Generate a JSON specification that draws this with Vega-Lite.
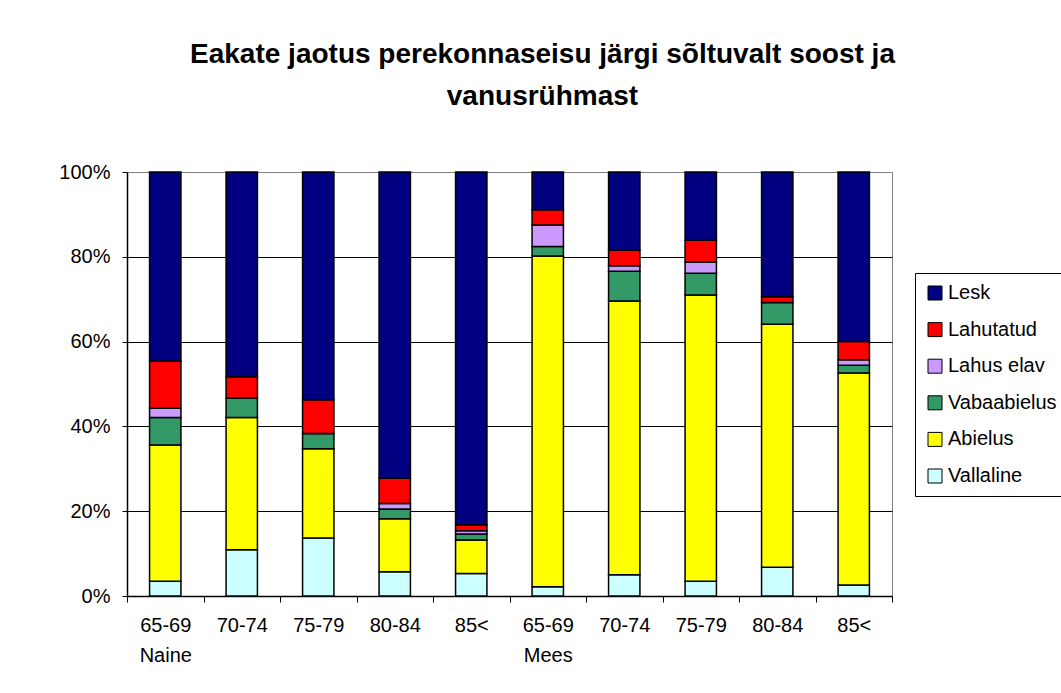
{
  "$schema": "https://vega.github.io/schema/vega-lite/v6.json",
  "width": 765,
  "height": 424,
  "autosize": "none",
  "padding": {"left": 127, "top": 172, "right": 169, "bottom": 97},
  "background": "white",
  "title": {
    "text": ["Eakate jaotus perekonnaseisu järgi sõltuvalt soost ja", "vanusrühmast"],
    "font": "Liberation Sans",
    "fontSize": 28,
    "fontWeight": "bold",
    "color": "black",
    "lineHeight": 42,
    "anchor": "middle",
    "frame": "group",
    "dx": 33,
    "offset": 51
  },
  "config": {
    "view": {"stroke": "#808080", "strokeWidth": 1},
    "font": "Liberation Sans"
  },
  "data": {
    "values": [
      {"grupp": "Naine 65-69", "staatus": "Vallaline", "osakaal": 3.5},
      {"grupp": "Naine 65-69", "staatus": "Abielus", "osakaal": 32.1},
      {"grupp": "Naine 65-69", "staatus": "Vabaabielus", "osakaal": 6.5},
      {"grupp": "Naine 65-69", "staatus": "Lahus elav", "osakaal": 2.2},
      {"grupp": "Naine 65-69", "staatus": "Lahutatud", "osakaal": 11.1},
      {"grupp": "Naine 65-69", "staatus": "Lesk", "osakaal": 44.6},
      {"grupp": "Naine 70-74", "staatus": "Vallaline", "osakaal": 10.9},
      {"grupp": "Naine 70-74", "staatus": "Abielus", "osakaal": 31.2},
      {"grupp": "Naine 70-74", "staatus": "Vabaabielus", "osakaal": 4.6},
      {"grupp": "Naine 70-74", "staatus": "Lahus elav", "osakaal": 0},
      {"grupp": "Naine 70-74", "staatus": "Lahutatud", "osakaal": 5.0},
      {"grupp": "Naine 70-74", "staatus": "Lesk", "osakaal": 48.3},
      {"grupp": "Naine 75-79", "staatus": "Vallaline", "osakaal": 13.7},
      {"grupp": "Naine 75-79", "staatus": "Abielus", "osakaal": 21.0},
      {"grupp": "Naine 75-79", "staatus": "Vabaabielus", "osakaal": 3.6},
      {"grupp": "Naine 75-79", "staatus": "Lahus elav", "osakaal": 0},
      {"grupp": "Naine 75-79", "staatus": "Lahutatud", "osakaal": 8.0},
      {"grupp": "Naine 75-79", "staatus": "Lesk", "osakaal": 53.7},
      {"grupp": "Naine 80-84", "staatus": "Vallaline", "osakaal": 5.7},
      {"grupp": "Naine 80-84", "staatus": "Abielus", "osakaal": 12.5},
      {"grupp": "Naine 80-84", "staatus": "Vabaabielus", "osakaal": 2.3},
      {"grupp": "Naine 80-84", "staatus": "Lahus elav", "osakaal": 1.3},
      {"grupp": "Naine 80-84", "staatus": "Lahutatud", "osakaal": 6.0},
      {"grupp": "Naine 80-84", "staatus": "Lesk", "osakaal": 72.2},
      {"grupp": "Naine 85<", "staatus": "Vallaline", "osakaal": 5.3},
      {"grupp": "Naine 85<", "staatus": "Abielus", "osakaal": 7.9},
      {"grupp": "Naine 85<", "staatus": "Vabaabielus", "osakaal": 1.4},
      {"grupp": "Naine 85<", "staatus": "Lahus elav", "osakaal": 0.8},
      {"grupp": "Naine 85<", "staatus": "Lahutatud", "osakaal": 1.4},
      {"grupp": "Naine 85<", "staatus": "Lesk", "osakaal": 83.2},
      {"grupp": "Mees 65-69", "staatus": "Vallaline", "osakaal": 2.2},
      {"grupp": "Mees 65-69", "staatus": "Abielus", "osakaal": 78.0},
      {"grupp": "Mees 65-69", "staatus": "Vabaabielus", "osakaal": 2.2},
      {"grupp": "Mees 65-69", "staatus": "Lahus elav", "osakaal": 5.1},
      {"grupp": "Mees 65-69", "staatus": "Lahutatud", "osakaal": 3.6},
      {"grupp": "Mees 65-69", "staatus": "Lesk", "osakaal": 8.9},
      {"grupp": "Mees 70-74", "staatus": "Vallaline", "osakaal": 5.0},
      {"grupp": "Mees 70-74", "staatus": "Abielus", "osakaal": 64.6},
      {"grupp": "Mees 70-74", "staatus": "Vabaabielus", "osakaal": 7.0},
      {"grupp": "Mees 70-74", "staatus": "Lahus elav", "osakaal": 1.3},
      {"grupp": "Mees 70-74", "staatus": "Lahutatud", "osakaal": 3.7},
      {"grupp": "Mees 70-74", "staatus": "Lesk", "osakaal": 18.4},
      {"grupp": "Mees 75-79", "staatus": "Vallaline", "osakaal": 3.5},
      {"grupp": "Mees 75-79", "staatus": "Abielus", "osakaal": 67.5},
      {"grupp": "Mees 75-79", "staatus": "Vabaabielus", "osakaal": 5.1},
      {"grupp": "Mees 75-79", "staatus": "Lahus elav", "osakaal": 2.7},
      {"grupp": "Mees 75-79", "staatus": "Lahutatud", "osakaal": 5.1},
      {"grupp": "Mees 75-79", "staatus": "Lesk", "osakaal": 16.1},
      {"grupp": "Mees 80-84", "staatus": "Vallaline", "osakaal": 6.8},
      {"grupp": "Mees 80-84", "staatus": "Abielus", "osakaal": 57.3},
      {"grupp": "Mees 80-84", "staatus": "Vabaabielus", "osakaal": 5.1},
      {"grupp": "Mees 80-84", "staatus": "Lahus elav", "osakaal": 0},
      {"grupp": "Mees 80-84", "staatus": "Lahutatud", "osakaal": 1.4},
      {"grupp": "Mees 80-84", "staatus": "Lesk", "osakaal": 29.4},
      {"grupp": "Mees 85<", "staatus": "Vallaline", "osakaal": 2.6},
      {"grupp": "Mees 85<", "staatus": "Abielus", "osakaal": 50.0},
      {"grupp": "Mees 85<", "staatus": "Vabaabielus", "osakaal": 1.8},
      {"grupp": "Mees 85<", "staatus": "Lahus elav", "osakaal": 1.3},
      {"grupp": "Mees 85<", "staatus": "Lahutatud", "osakaal": 4.3},
      {"grupp": "Mees 85<", "staatus": "Lesk", "osakaal": 40.0}
    ]
  },
  "transform": [
    {"calculate": "indexof(['Vallaline', 'Abielus', 'Vabaabielus', 'Lahus elav', 'Lahutatud', 'Lesk'], datum.staatus)", "as": "jrk"}
  ],
  "mark": {"type": "bar", "width": {"band": 0.41}, "stroke": "black", "strokeWidth": 1.5},
  "encoding": {
    "x": {
      "field": "grupp",
      "type": "nominal",
      "sort": null,
      "title": null,
      "scale": {"paddingInner": 0, "paddingOuter": 0},
      "axis": {
        "labelAngle": 0,
        "labelFont": "Liberation Sans",
        "labelFontSize": 20,
        "labelColor": "black",
        "labelLineHeight": 30,
        "labelPadding": 13,
        "labelExpr": "datum.label == 'Naine 65-69' ? ['65-69', 'Naine'] : datum.label == 'Mees 65-69' ? ['65-69', 'Mees'] : split(datum.label, ' ')[1]",
        "tickBand": "extent",
        "tickColor": "black",
        "tickSize": 6,
        "domainColor": "black",
        "domainWidth": 1.5
      }
    },
    "y": {
      "field": "osakaal",
      "type": "quantitative",
      "stack": "normalize",
      "title": null,
      "scale": {"domain": [0, 1]},
      "axis": {
        "values": [0, 0.2, 0.4, 0.6, 0.8, 1],
        "format": ".0%",
        "labelFont": "Liberation Sans",
        "labelFontSize": 20,
        "labelColor": "black",
        "labelPadding": 12,
        "tickColor": "black",
        "tickSize": 5,
        "domainColor": "black",
        "domainWidth": 1.5,
        "gridColor": {"condition": {"test": "datum.value == 1", "value": "#808080"}, "value": "black"},
        "gridWidth": 1
      }
    },
    "order": {"field": "jrk", "type": "quantitative", "sort": "ascending"},
    "color": {
      "field": "staatus",
      "type": "nominal",
      "scale": {
        "domain": ["Vallaline", "Abielus", "Vabaabielus", "Lahus elav", "Lahutatud", "Lesk"],
        "range": ["#CCFFFF", "#FFFF00", "#339966", "#CC99FF", "#FF0000", "#000080"]
      },
      "legend": {
        "title": null,
        "values": ["Lesk", "Lahutatud", "Lahus elav", "Vabaabielus", "Abielus", "Vallaline"],
        "orient": "none",
        "legendX": 788,
        "legendY": 101,
        "strokeColor": "black",
        "fillColor": "white",
        "padding": 10,
        "symbolType": "square",
        "symbolSize": 196,
        "symbolStrokeColor": "black",
        "symbolStrokeWidth": 1,
        "symbolOpacity": 1,
        "labelFont": "Liberation Sans",
        "labelFontSize": 20,
        "labelColor": "black",
        "labelOffset": 3,
        "rowPadding": 16.6,
        "labelLimit": 200
      }
    }
  }
}
